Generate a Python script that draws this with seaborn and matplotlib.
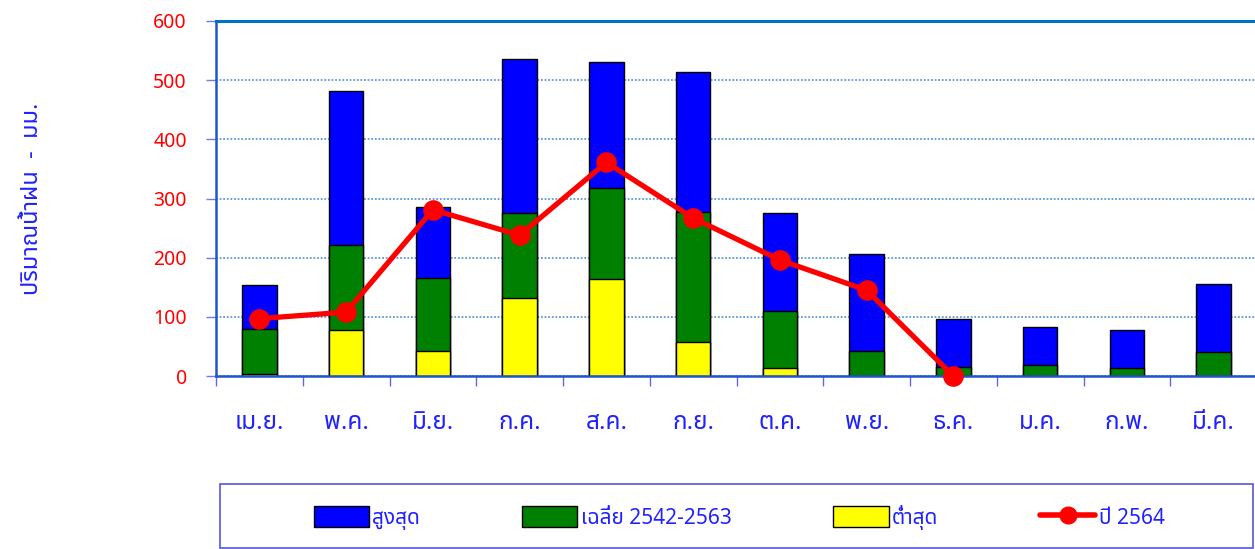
import matplotlib
matplotlib.use("Agg")
import matplotlib.pyplot as plt
from matplotlib import font_manager
from matplotlib.ft2font import FT2Font
from matplotlib.patches import Patch, Rectangle
from matplotlib.lines import Line2D
from matplotlib.ticker import FixedLocator
import numpy as np
import pandas as pd
import seaborn as sns

# ---- data (mm) ----
months = ["เม.ย.", "พ.ค.", "มิ.ย.", "ก.ค.", "ส.ค.", "ก.ย.",
          "ต.ค.", "พ.ย.", "ธ.ค.", "ม.ค.", "ก.พ.", "มี.ค."]
rain_max = [154, 482, 285, 535, 530, 514, 276, 206, 97, 82, 77, 155]
rain_avg = [79, 221, 166, 275, 317, 277, 110, 43, 16, 19, 14, 40]
rain_min = [3, 77, 43, 132, 164, 58, 14, 0, 0, 0, 0, 0]
rain_2564 = [97, 108, 281, 238, 361, 267, 196, 145, 0, np.nan, np.nan, np.nan]

labels = ["สูงสุด", "เฉลี่ย 2542-2563", "ต่ำสุด", "ปี 2564"]
ylabel = "ปริมาณน้ำฝน  -  มม."


def find_thai_font():
    # look for any installed family that has Thai glyphs
    found = []
    for f in font_manager.fontManager.ttflist:
        try:
            if 0x0E01 in FT2Font(f.fname).get_charmap():
                found.append(f.name)
        except Exception:
            pass
    for pref in ["Tahoma", "Noto Sans Thai", "Noto Sans Thai UI", "Loma", "Garuda",
                 "Norasi", "Sarabun", "TH Sarabun New", "Leelawadee UI"]:
        if pref in found:
            return pref
    return found[0] if found else "DejaVu Sans"


sns.set_style("white")
thai = find_thai_font()
plt.rcParams["font.family"] = [thai, "DejaVu Sans"]

df = pd.DataFrame({"month": months, "max": rain_max, "avg": rain_avg,
                   "min": rain_min, "y2564": rain_2564})

fig = plt.figure(figsize=(12.55, 5.49), dpi=100)
ax = fig.add_axes([216 / 1255, 1 - 376 / 549, 1041 / 1255, 355 / 549])

for col, c in [("max", "#0000ff"), ("avg", "#008000"), ("min", "#ffff00")]:
    sns.barplot(data=df, x="month", y=col, order=months, color=c, saturation=1,
                width=0.4, edgecolor="black", linewidth=1, ax=ax)

sns.pointplot(data=df, x="month", y="y2564", order=months, color="#ff0000",
              markers="o", markersize=12, linewidth=3.8, errorbar=None, ax=ax)
for ln in ax.lines:
    ln.set_clip_on(False)
    ln.set_zorder(5)

ax.set_xlim(-0.5, 11.5)
ax.set_ylim(0, 600)
ax.set_yticks(range(0, 601, 100))
ax.yaxis.grid(True, linestyle=(0, (1, 1)), color="#5b9bd5", linewidth=1.3)
ax.set_axisbelow(True)

ax.set_xlabel("")
ax.set_ylabel(ylabel, color="#2222ff", fontsize=17)
ax.yaxis.set_label_coords(-0.165, 0.5)

ax.tick_params(axis="y", direction="out", length=7, width=1, color="#7777dd",
               labelcolor="#ff0000", labelsize=14, pad=14, left=True)
ax.tick_params(axis="x", which="major", length=0, labelcolor="#2222ff",
               labelsize=17.5, pad=25)
ax.xaxis.set_minor_locator(FixedLocator(np.arange(-0.5, 12, 1)))
ax.tick_params(axis="x", which="minor", direction="out", length=7.5, width=1,
               color="#6666dd", bottom=True)

ax.spines["left"].set_color("#2255cc")
ax.spines["left"].set_linewidth(1.8)
ax.spines["bottom"].set_color("#2255cc")
ax.spines["bottom"].set_linewidth(1.8)
ax.spines["top"].set_color("#0070c0")
ax.spines["top"].set_linewidth(2.2)
ax.spines["right"].set_visible(False)

handles = [
    Patch(facecolor="#0000ff", edgecolor="black"),
    Patch(facecolor="#008000", edgecolor="black"),
    Patch(facecolor="#ffff00", edgecolor="black"),
    Line2D([], [], color="#ff0000", lw=4, marker="o", markersize=12),
]
fig.legend(handles, labels, loc="center", bbox_to_anchor=(0.589, 0.058), ncol=4,
           frameon=False, fontsize=15, labelcolor="#2222ff", handlelength=2.65,
           handleheight=1.15, handletextpad=0.15, columnspacing=4.9)
fig.add_artist(Rectangle((220 / 1255, 0.002), 1033 / 1255, 64 / 549,
                         transform=fig.transFigure, fill=False,
                         edgecolor="#5555dd", linewidth=1.2))

fig.savefig("out.png", dpi=100)
